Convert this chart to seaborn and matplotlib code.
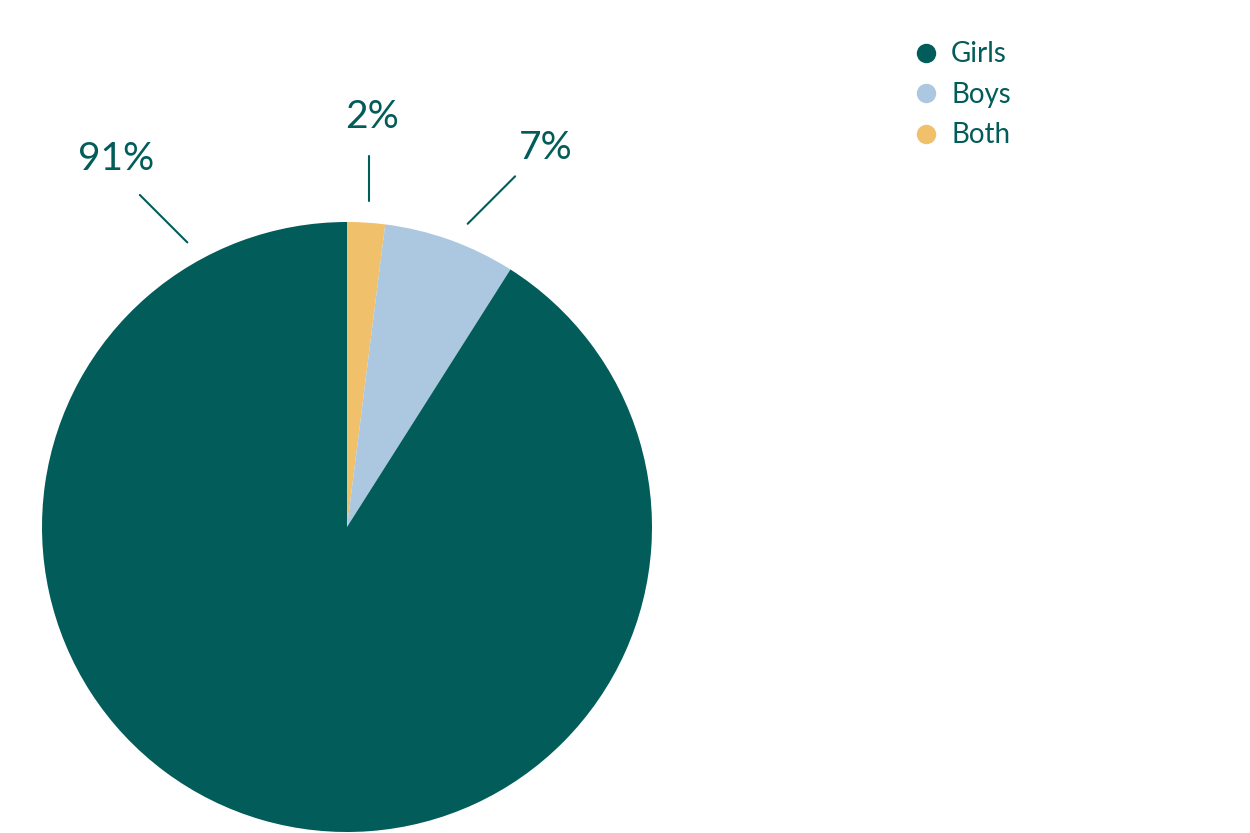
import numpy as np
import matplotlib
matplotlib.use("Agg")
import matplotlib.pyplot as plt
from matplotlib.lines import Line2D
import seaborn as sns

sns.set_theme(style="white")
plt.rcParams["font.family"] = ["Lato", "DejaVu Sans"]

# data (pie order: clockwise from 12 o'clock)
slice_names = ["Both", "Boys", "Girls"]
slice_values = [2, 7, 91]
slice_labels = ["2%", "7%", "91%"]
legend_order = ["Girls", "Boys", "Both"]

teal = "#025c5a"
colors = {"Girls": teal, "Boys": "#abc8e0", "Both": "#f0c06a"}

# callout layout (angle in deg, radius in pie units)
anchor_ang = [86.1, 68.3, 119.3]
line_dir = [90, 45, 135]
line_len = [0.15, 0.22, 0.22]
label_ang = [86.5, 62.4, 122.0]
label_rad = [1.353, 1.41, 1.43]

fig = plt.figure(figsize=(12.5, 8.33), dpi=100)
ax = fig.add_axes([0, 0, 1, 1])
wedges, _ = ax.pie(slice_values, colors=[colors[n] for n in slice_names],
                   startangle=90, counterclock=False, radius=1,
                   wedgeprops=dict(linewidth=0))

for i, lab in enumerate(slice_labels):
    a = np.deg2rad(anchor_ang[i])
    x0, y0 = 1.07 * np.cos(a), 1.07 * np.sin(a)
    d = np.deg2rad(line_dir[i])
    x1, y1 = x0 + line_len[i] * np.cos(d), y0 + line_len[i] * np.sin(d)
    ax.plot([x0, x1], [y0, y1], color=teal, lw=1.5, clip_on=False)
    b = np.deg2rad(label_ang[i])
    ax.text(label_rad[i] * np.cos(b), label_rad[i] * np.sin(b) - 0.006, lab,
            ha="center", va="center", fontsize=28, color=teal)

handles = [Line2D([], [], marker="o", linestyle="none", markersize=14,
                  markerfacecolor=colors[n], markeredgewidth=0)
           for n in legend_order]
leg = ax.legend(handles, legend_order, loc="upper left",
                bbox_to_anchor=(0.7186, 0.967), frameon=False, fontsize=20,
                handletextpad=0.4, labelspacing=0.52, borderpad=0,
                handlelength=1.0)
for t in leg.get_texts():
    t.set_color(teal)

ax.set_xlim(-347 / 305, 903 / 305)
ax.set_ylim(-306 / 305, 527 / 305)
ax.set_aspect("equal")
ax.axis("off")

fig.savefig("out.png", dpi=100)
